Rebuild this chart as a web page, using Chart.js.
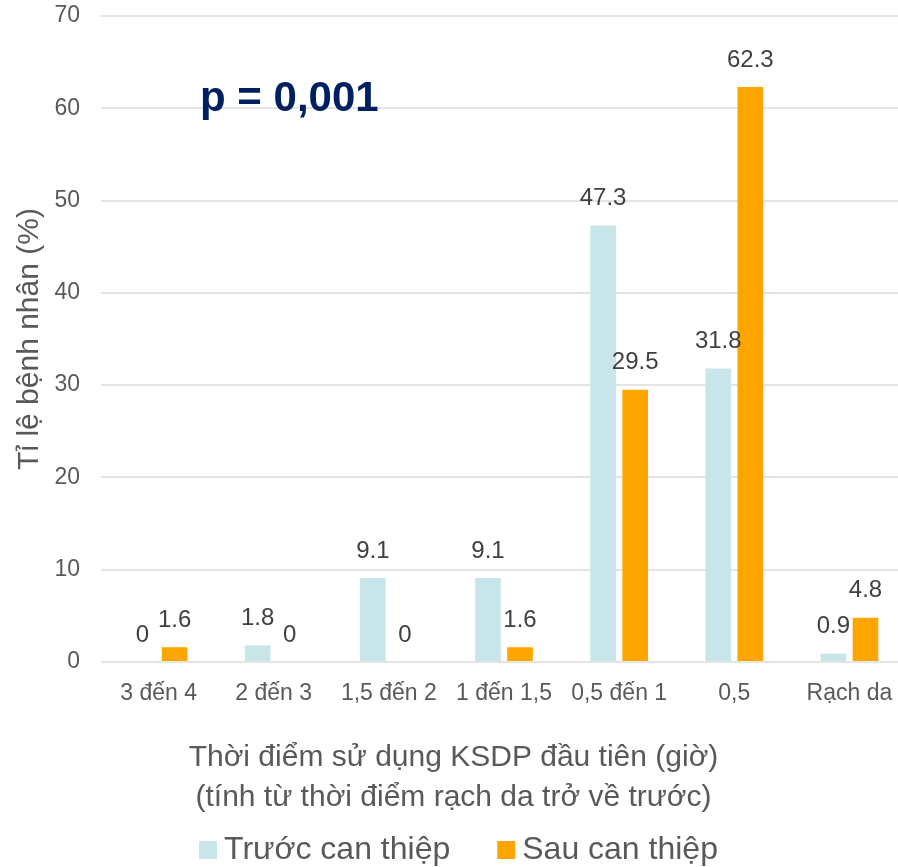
<!DOCTYPE html>
<html lang="vi">
<head>
<meta charset="utf-8">
<title>Thời điểm sử dụng KSDP đầu tiên</title>
<script src="https://cdn.jsdelivr.net/npm/chart.js@4.4.1/dist/chart.umd.min.js"></script>
<style>
  html, body { margin: 0; padding: 0; background: #ffffff; overflow: hidden; }
  #chart { display: block; }
</style>
</head>
<body>
<canvas id="chart" width="908" height="867"></canvas>
<script>
// Time of first prophylactic antibiotic dose, counted back from skin incision (hours)
const categories = ['3 đến 4', '2 đến 3', '1,5 đến 2', '1 đến 1,5', '0,5 đến 1', '0,5', 'Rạch da'];
// Share of patients (%) before and after the intervention
const beforeValues = [0, 1.8, 9.1, 9.1, 47.3, 31.8, 0.9];
const afterValues = [1.6, 0, 0, 1.6, 29.5, 62.3, 4.8];
const seriesNames = ['Trước can thiệp', 'Sau can thiệp'];
const yTicks = [0, 10, 20, 30, 40, 50, 60, 70];
const pValueText = 'p = 0,001';

const FONT = '"Liberation Sans", Arial, Helvetica, sans-serif';
const GREY = '#595959';

Chart.defaults.font.family = FONT;
Chart.defaults.color = GREY;

// Writes each bar's value above it
const valueLabels = {
  id: 'valueLabels',
  afterDatasetsDraw(chart) {
    const ctx = chart.ctx;
    ctx.save();
    ctx.font = '24px ' + FONT;
    ctx.fillStyle = '#404040';
    ctx.textAlign = 'center';
    ctx.textBaseline = 'middle';
    chart.data.datasets.forEach((ds, di) => {
      const meta = chart.getDatasetMeta(di);
      meta.data.forEach((bar, i) => {
        ctx.fillText(String(ds.data[i]), bar.x, bar.y - 27);
      });
    });
    ctx.restore();
  }
};

// Significance note in the upper left of the plot
const pValueNote = {
  id: 'pValueNote',
  afterDraw(chart) {
    const ctx = chart.ctx;
    const area = chart.chartArea;
    const y = chart.scales.y.getPixelForValue(61.0);
    ctx.save();
    ctx.font = 'bold 42px ' + FONT;
    ctx.fillStyle = '#002060';
    ctx.textAlign = 'left';
    ctx.textBaseline = 'middle';
    ctx.fillText(pValueText, area.left + 99, y);
    ctx.restore();
  }
};

// Series key along the bottom edge: square swatch, short gap, series name
const seriesKey = {
  id: 'seriesKey',
  afterDraw(chart) {
    const ctx = chart.ctx;
    const box = 18, gap = 7, itemGap = 47;
    ctx.save();
    ctx.font = '32px ' + FONT;
    ctx.textBaseline = 'middle';
    ctx.textAlign = 'left';
    const items = chart.data.datasets.map(ds => ({
      label: ds.label,
      color: ds.backgroundColor,
      w: box + gap + ctx.measureText(ds.label).width
    }));
    const total = items.reduce((s, it) => s + it.w, 0) + itemGap * (items.length - 1);
    let x = chart.width / 2 + 4.5 - total / 2;
    const cy = chart.height - 17;
    items.forEach(it => {
      ctx.fillStyle = it.color;
      ctx.fillRect(x, cy - box / 2, box, box);
      ctx.fillStyle = GREY;
      ctx.fillText(it.label, x + box + gap, cy);
      x += it.w + itemGap;
    });
    ctx.restore();
  }
};

new Chart(document.getElementById('chart'), {
  type: 'bar',
  data: {
    labels: categories,
    datasets: [
      {
        label: seriesNames[0],
        data: beforeValues,
        backgroundColor: '#C8E5E9',
        borderWidth: 0,
        categoryPercentage: 0.557,
        barPercentage: 0.8
      },
      {
        label: seriesNames[1],
        data: afterValues,
        backgroundColor: '#FFA500',
        borderWidth: 0,
        categoryPercentage: 0.557,
        barPercentage: 0.8
      }
    ]
  },
  options: {
    responsive: false,
    animation: false,
    devicePixelRatio: 1,
    layout: { padding: { top: 16, right: 1, left: 0, bottom: 42 } },
    scales: {
      x: {
        grid: { display: false, drawTicks: false },
        border: { display: false },
        ticks: { font: { size: 23 }, color: GREY, padding: 18, maxRotation: 0, autoSkip: false },
        afterFit(scale) {
          scale.height = 73;
          scale.paddingLeft = 0;
          scale.paddingRight = 0;
        }
      },
      y: {
        min: 0,
        max: 70,
        afterBuildTicks(scale) { scale.ticks = yTicks.map(v => ({ value: v })); },
        grid: { color: '#E4E4E4', lineWidth: 2, drawTicks: false },
        border: { display: false },
        ticks: { font: { size: 23 }, color: GREY, padding: 21 },
        title: {
          display: true,
          text: 'Tỉ lệ bệnh nhân (%)',
          font: { size: 30 },
          color: GREY,
          padding: { top: 12, bottom: 0 }
        },
        afterFit(scale) {
          scale.width = 101;
          scale.paddingTop = 0;
          scale.paddingBottom = 0;
        }
      }
    },
    plugins: {
      title: {
        display: true,
        position: 'bottom',
        text: ['Thời điểm sử dụng KSDP đầu tiên (giờ)', '(tính từ thời điểm rạch da trở về trước)'],
        font: { size: 30, weight: 'normal', lineHeight: '40px' },
        color: GREY,
        padding: { top: 3, bottom: 7 }
      },
      legend: { display: false },
      tooltip: { enabled: false }
    }
  },
  plugins: [valueLabels, pValueNote, seriesKey]
});
</script>
</body>
</html>
